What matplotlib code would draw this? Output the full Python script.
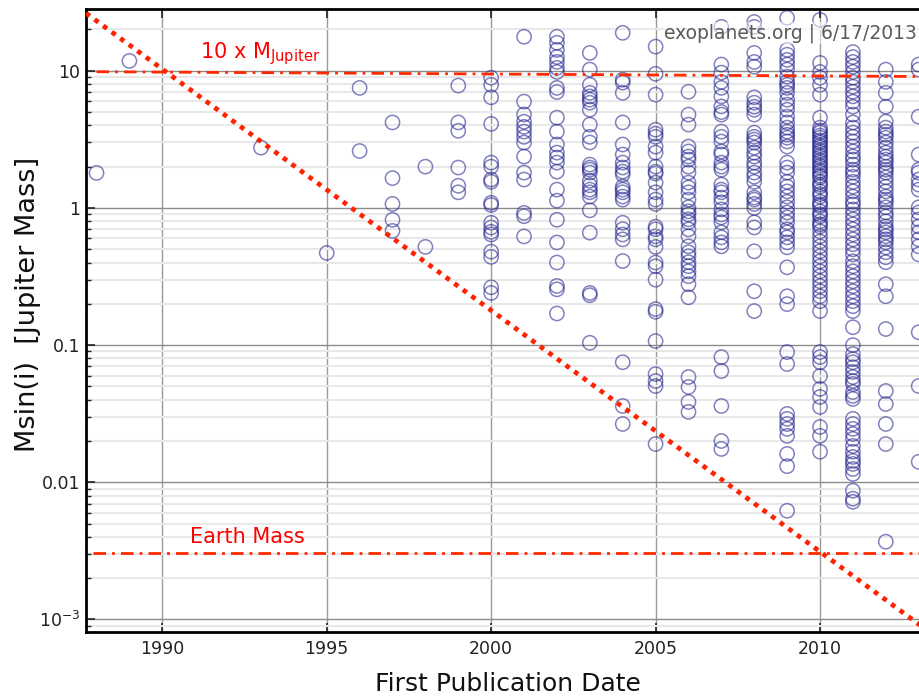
import matplotlib
matplotlib.use("Agg")
import matplotlib.pyplot as plt
import numpy as np

plt.rcParams['font.family'] = ['DejaVu Sans']

# ---- data: Msin(i) [Jupiter masses] per first-publication year ----
m1988 = [1.8]
m1989 = [11.8]
m1993 = [2.75]
m1995 = [0.47]
m1996 = [7.5, 2.6]
m1997 = [4.2, 1.65, 1.07, 0.82, 0.68]
m1998 = [2.0, 0.52]
m1999 = [7.8, 4.2, 3.65, 1.97, 1.45, 1.3]
m2000 = [8.9, 7.9, 6.4, 4.1, 2.14, 2.0, 1.61, 1.55, 1.09, 1.05, 0.78, 0.72, 0.67, 0.64,
         0.48, 0.44, 0.264, 0.24]
m2001 = [17.7, 5.96, 4.8, 4.25, 3.9, 3.6, 3.3, 3.0, 2.37, 1.81, 1.61, 0.92, 0.87, 0.62]
m2002 = [17.7, 16.0, 14.2, 12.6, 11.6, 10.5, 9.8, 7.5, 7.0, 4.55, 3.6, 2.9, 2.53, 2.33,
         2.14, 1.84, 1.36, 1.13, 0.82, 0.56, 0.40, 0.27, 0.255, 0.17]
m2003 = [13.5, 10.2, 7.9, 6.9, 6.5, 6.15, 5.85, 5.2, 4.05, 3.3, 3.0, 2.07, 1.97, 1.9, 1.81,
         1.58, 1.46, 1.36, 1.30, 1.21, 0.96, 0.66, 0.24, 0.231, 0.104]
m2004 = [18.9, 8.6, 8.2, 6.9, 4.2, 2.9, 2.45, 2.14, 1.97, 1.84, 1.75, 1.43, 1.36, 1.30, 1.21,
         1.15, 0.78, 0.70, 0.64, 0.59, 0.41, 0.075, 0.036, 0.0266]
m2005 = [15.0, 9.5, 6.7, 3.72, 3.48, 3.3, 2.8, 2.53, 2.0, 1.84, 1.78, 1.53, 1.30, 1.15, 1.07,
         0.73, 0.70, 0.62, 0.59, 0.52, 0.40, 0.376, 0.30, 0.183, 0.175, 0.107, 0.0615,
         0.0547, 0.0503, 0.019]
m2006 = [7.03, 4.79, 4.05, 2.80, 2.58, 2.37, 2.25, 2.0, 1.81, 1.53, 1.41, 1.30, 1.15, 1.01,
         0.944, 0.897, 0.825, 0.785, 0.698, 0.621, 0.525, 0.475, 0.444, 0.402, 0.376, 0.345,
         0.318, 0.278, 0.223, 0.0585, 0.0495, 0.0385, 0.0326]
m2007 = [20.9, 11.1, 9.7, 8.3, 7.5, 6.5, 5.5, 5.0, 4.79, 3.6, 3.3, 3.05, 2.58, 2.45, 2.14,
         2.0, 1.9, 1.48, 1.36, 1.30, 1.19, 1.10, 0.975, 0.897, 0.853, 0.785, 0.664, 0.61,
         0.561, 0.525, 0.0818, 0.0647, 0.036, 0.020, 0.0175]
m2008 = [22.7, 20.9, 13.5, 11.6, 10.7, 6.4, 5.85, 5.47, 5.2, 4.79, 3.54, 3.3, 3.15, 3.0,
         2.75, 2.53, 2.37, 2.14, 2.0, 1.81, 1.69, 1.55, 1.30, 1.19, 1.15, 1.07, 1.0, 0.785,
         0.721, 0.483, 0.247, 0.177]
m2009 = [24.3, 14.2, 13.1, 12.0, 11.1, 10.2, 9.05, 8.3, 7.9, 7.5, 6.9, 6.15, 5.66, 5.2,
         4.63, 4.2, 3.85, 3.6, 3.42, 3.25, 3.05, 2.8, 2.14, 1.97, 1.81, 1.55, 1.43, 1.32,
         1.21, 1.11, 1.01, 0.927, 0.853, 0.785, 0.698, 0.664, 0.61, 0.561, 0.516, 0.369,
         0.227, 0.199, 0.089, 0.0728, 0.0315, 0.029, 0.0266, 0.0245, 0.0218, 0.0161,
         0.0131, 0.0062]
m2010 = [23.5, 11.4, 9.8, 8.9, 7.9, 6.7, 4.55, 3.85, 3.66, 3.54, 3.37, 3.25, 3.1, 3.0,
         2.85, 2.75, 2.62, 2.53, 2.41, 2.33, 2.22, 2.14, 2.04, 1.97, 1.87, 1.81, 1.72, 1.67,
         1.55, 1.48, 1.43, 1.32, 1.26, 1.21, 1.11, 1.06, 1.03, 0.944, 0.897, 0.867, 0.798,
         0.759, 0.733, 0.675, 0.621, 0.570, 0.525, 0.483, 0.444, 0.408, 0.376, 0.345,
         0.318, 0.292, 0.269, 0.247, 0.227, 0.209, 0.177, 0.089, 0.0818, 0.075, 0.0595,
         0.0479, 0.0419, 0.0354, 0.0253, 0.0218, 0.0167]
m2011 = [13.7, 12.6, 11.6, 10.7, 9.8, 8.9, 8.3, 7.65, 7.03, 6.5, 5.95, 5.47, 4.79, 4.2,
         3.85, 3.54, 3.3, 3.05, 2.8, 2.58, 2.37, 2.25, 2.07, 1.9, 1.81, 1.69, 1.55, 1.43,
         1.32, 1.21, 1.11, 1.06, 0.975, 0.897, 0.825, 0.759, 0.698, 0.642, 0.59, 0.543,
         0.499, 0.459, 0.408, 0.376, 0.345, 0.318, 0.292, 0.269, 0.247, 0.227, 0.209,
         0.192, 0.177, 0.135, 0.1, 0.086, 0.079, 0.075, 0.069, 0.0637, 0.0585, 0.0547,
         0.052, 0.0455, 0.0426, 0.0405, 0.029, 0.0266, 0.0245, 0.0225, 0.0207, 0.0184,
         0.0167, 0.0153, 0.0143, 0.0136, 0.0125, 0.0115, 0.00868, 0.00759, 0.00721]
m2012 = [10.2, 8.3, 6.9, 5.47, 4.26, 3.85, 3.6, 3.42, 3.25, 3.0, 2.75, 2.53, 2.37, 2.25,
         2.14, 2.0, 1.9, 1.81, 1.67, 1.55, 1.43, 1.32, 1.21, 1.15, 1.10, 1.01, 0.927, 0.867,
         0.798, 0.733, 0.698, 0.664, 0.621, 0.59, 0.561, 0.516, 0.475, 0.437, 0.402, 0.278,
         0.227, 0.131, 0.0463, 0.0372, 0.0266, 0.019, 0.00369]
m2013 = [11.1, 10.2, 4.63, 2.45, 1.9, 1.81, 1.61, 1.48, 1.36, 1.01, 0.927, 0.825, 0.733,
         0.664, 0.59, 0.525, 0.459, 0.124, 0.0503, 0.0141]

years = [1988, 1989, 1993, 1995, 1996, 1997, 1998, 1999, 2000, 2001, 2002, 2003, 2004,
         2005, 2006, 2007, 2008, 2009, 2010, 2011, 2012, 2013]
masses_by_year = [m1988, m1989, m1993, m1995, m1996, m1997, m1998, m1999, m2000, m2001,
                  m2002, m2003, m2004, m2005, m2006, m2007, m2008, m2009, m2010, m2011,
                  m2012, m2013]

# reference lines
jup10_years = [1988.0, 2013.04]
jup10_mass = [9.84, 9.08]
earth_years = [1987.9, 2013.04]
earth_mass = [0.00307, 0.00307]
trend_years = [1987.68, 2013.04]
trend_mass = [26.3, 0.00091]

xticks = [1990, 1995, 2000, 2005, 2010]
yticks = [1e-3, 1e-2, 1e-1, 1, 10]
ytick_labels = [r'$10^{-3}$', '0.01', '0.1', '1', '10']

# ---- figure ----
W, H = 920, 700
fig = plt.figure(figsize=(W / 100, H / 100), dpi=100)
ax = fig.add_axes([86 / W, 1 - 632 / H, (920 - 86) / W, (632 - 9) / H])
ax.set_yscale('log')

ax.set_xticks(xticks)
ax.set_xticklabels([str(t) for t in xticks])
ax.set_yticks(yticks)
ax.set_yticklabels(ytick_labels)
minor = [m * 10.0 ** e for e in range(-4, 2) for m in range(2, 10)]
ax.set_yticks(minor, minor=True)
ax.yaxis.set_minor_formatter(matplotlib.ticker.NullFormatter())

ax.set_xlim(1987.68, 2013.04)
ax.set_ylim(8.1e-4, 28.2)

ax.grid(which='minor', axis='y', color='#e8e8e8', lw=1.5, zorder=0)
ax.grid(which='major', axis='y', color='#8c8c8c', lw=1.0, zorder=0)
ax.grid(which='major', axis='x', color='#9a9a9a', lw=1.0, zorder=0)
ax.set_axisbelow(True)

for side in ['left', 'bottom', 'top']:
    ax.spines[side].set_linewidth(2.0)
    ax.spines[side].set_color('black')
ax.spines['right'].set_visible(False)

ax.tick_params(axis='both', which='major', direction='in', length=6.5, width=1.2,
               labelsize=12.5, colors='#222222', top=True, right=False)
ax.tick_params(axis='x', which='major', pad=6)
ax.tick_params(axis='y', which='major', pad=4)
ax.tick_params(axis='y', which='minor', direction='in', length=3.5, width=1.0,
               colors='#222222', right=False)

# scatter
for yr, ms in zip(years, masses_by_year):
    ax.scatter(np.full(len(ms), yr), ms, s=105, facecolors='none',
               edgecolors='#1c1c8c', linewidths=1.1, alpha=0.55, zorder=3)

# reference lines
ax.plot(jup10_years, jup10_mass, color='#ff2a00', lw=2.0,
        linestyle=(0, (4.5, 2.2, 1.0, 2.2)), zorder=4)
ax.plot(earth_years, earth_mass, color='#ff2a00', lw=2.0,
        linestyle=(0, (4.5, 2.2, 1.0, 2.2)), zorder=4)
ax.plot(trend_years, trend_mass, color='#ff2200', lw=3.4,
        linestyle=(0, (1.0, 1.25)), zorder=4)

ax.text(1991.15, 10.6, r'10 x M$_{\mathrm{Jupiter}}$', color='#ff0000', fontsize=15,
        ha='left', va='bottom', zorder=5)
ax.text(1990.84, 0.0034, 'Earth Mass', color='#ff0000', fontsize=15,
        ha='left', va='bottom', zorder=5)

fig.text(917 / W, 1 - 33 / H, 'exoplanets.org | 6/17/2013', color='#5a5a5a',
         fontsize=13.5, ha='right', va='center', zorder=6,
         bbox=dict(facecolor='white', edgecolor='none', alpha=0.55, pad=1))

fig.text(508 / W, 1 - 684 / H, 'First Publication Date', fontsize=18,
         ha='center', va='center', color='#111111')
fig.text(28 / W, 1 - 304 / H, 'Msin(i)  [Jupiter Mass]', fontsize=19.5,
         rotation=90, ha='center', va='center', color='#111111')

fig.savefig('out.png', dpi=100, facecolor='white')
